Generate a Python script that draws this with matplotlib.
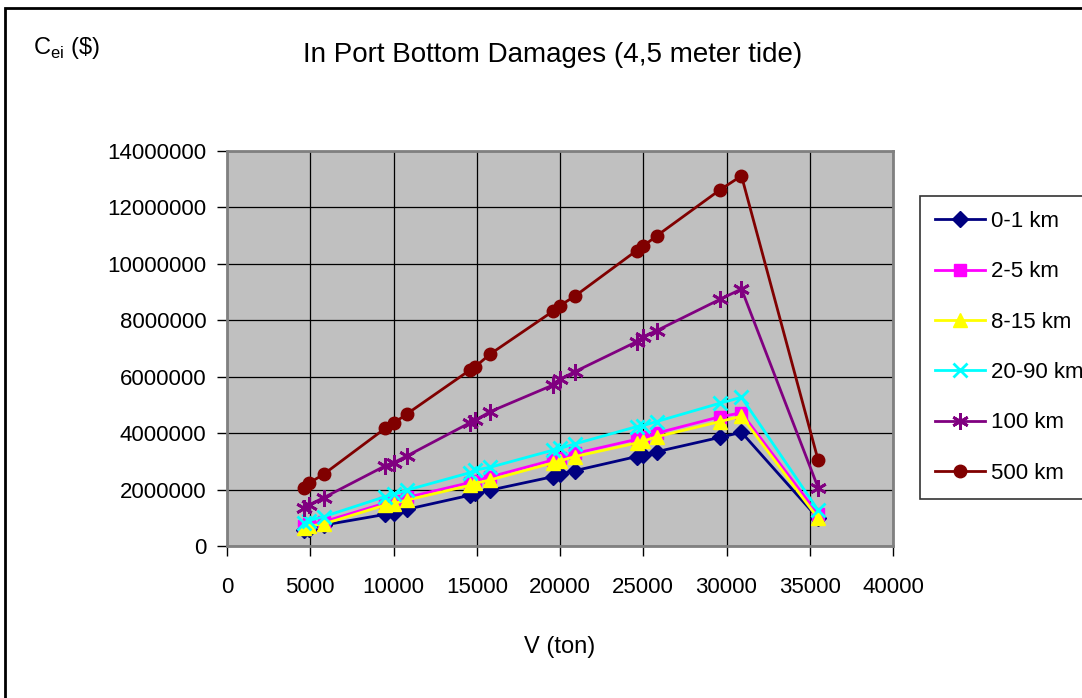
import numpy as np
import matplotlib.pyplot as plt
from matplotlib.patches import Rectangle

plt.rcParams['font.family'] = ['Liberation Sans', 'DejaVu Sans']

# Vessel size (ton) at each point
V = [4600, 4900, 5800, 9500, 10000, 10800, 14600, 14900, 15800,
     19600, 20000, 20900, 24600, 25000, 25800, 29600, 30900, 35500]

# Cost per series (millions of $)
km_0_1 = [0.57, 0.62, 0.74, 1.12, 1.16, 1.30, 1.80, 1.87, 1.98,
          2.46, 2.55, 2.67, 3.17, 3.23, 3.34, 3.85, 4.03, 0.98]
km_2_5 = [0.72, 0.77, 0.86, 1.52, 1.58, 1.72, 2.25, 2.32, 2.45,
          3.05, 3.12, 3.28, 3.78, 3.85, 4.00, 4.58, 4.72, 1.12]
km_8_15 = [0.65, 0.70, 0.78, 1.45, 1.50, 1.63, 2.15, 2.22, 2.34,
           2.95, 3.02, 3.17, 3.65, 3.72, 3.87, 4.41, 4.60, 0.98]
km_20_90 = [0.82, 0.90, 1.04, 1.75, 1.83, 1.98, 2.60, 2.69, 2.79,
            3.40, 3.46, 3.62, 4.23, 4.27, 4.41, 5.06, 5.27, 1.27]
km_100 = [1.36, 1.45, 1.71, 2.84, 2.95, 3.19, 4.37, 4.45, 4.76,
          5.71, 5.91, 6.18, 7.24, 7.42, 7.63, 8.74, 9.11, 2.07]
km_500 = [2.05, 2.22, 2.54, 4.17, 4.35, 4.68, 6.24, 6.35, 6.80,
          8.33, 8.52, 8.86, 10.47, 10.63, 10.99, 12.62, 13.12, 3.05]

labels = ['0-1 km', '2-5 km', '8-15 km', '20-90 km', '100 km', '500 km']
series = [km_0_1, km_2_5, km_8_15, km_20_90, km_100, km_500]
colors = ['#000080', '#FF00FF', '#FFFF00', '#00FFFF', '#800080', '#800000']
markers = ['D', 's', '^', 'x', (6, 2, 0), 'o']
msizes = [8, 8, 10, 10, 12, 9]

fig = plt.figure(figsize=(10.82, 6.98), dpi=100)
ax = fig.add_axes([227 / 1082, 1 - 546 / 698, 666 / 1082, 395 / 698])
ax.set_facecolor('#C0C0C0')

for lab, vals, c, m, ms in zip(labels, series, colors, markers, msizes):
    y = np.array(vals) * 1e6
    mew = 2 if m in ('x', (6, 2, 0)) else 1
    ax.plot(V, y, color=c, lw=2, marker=m, markersize=ms, markeredgewidth=mew,
            markeredgecolor=c, markerfacecolor=c, label=lab)

ax.set_xlim(0, 40000)
ax.set_ylim(0, 14000000)
ax.set_xticks(np.arange(0, 40001, 5000))
ax.set_yticks(np.arange(0, 14000001, 2000000))
ax.set_xticklabels([str(v) for v in range(0, 40001, 5000)])
ax.set_yticklabels([str(v) for v in range(0, 14000001, 2000000)])
ax.grid(True, color='black', lw=0.9)
ax.set_axisbelow(True)
ax.tick_params(axis='both', direction='out', length=7, width=1, color='black',
               labelsize=16)
ax.tick_params(axis='x', pad=15)
ax.tick_params(axis='y', pad=8)
for s in ax.spines.values():
    s.set_color('#808080')
    s.set_linewidth(2)

ax.set_xlabel('V (ton)', fontsize=17, labelpad=28)

fig.text(553 / 1082, 1 - 55 / 698, 'In Port Bottom Damages (4,5 meter tide)',
         ha='center', va='center', fontsize=20)
fig.text(33 / 1082, 1 - 48 / 698, r'C$_{\mathregular{ei}}$ (\$)',
         ha='left', va='center', fontsize=17)

leg = ax.legend(loc='upper left', bbox_to_anchor=(920 / 1082, 1 - 196 / 698),
                bbox_transform=fig.transFigure, fontsize=16, frameon=True,
                fancybox=False, edgecolor='black', handlelength=2.25,
                handletextpad=0.25, labelspacing=1.32, borderpad=0.68,
                borderaxespad=0)
leg.get_frame().set_linewidth(1.2)

# outer chart border
fig.patches.append(Rectangle((5 / 1082, -0.1), 1.2, 1 - 8 / 698 + 0.1,
                             transform=fig.transFigure, fill=False,
                             edgecolor='black', lw=2))

fig.savefig('out.png', dpi=100)
